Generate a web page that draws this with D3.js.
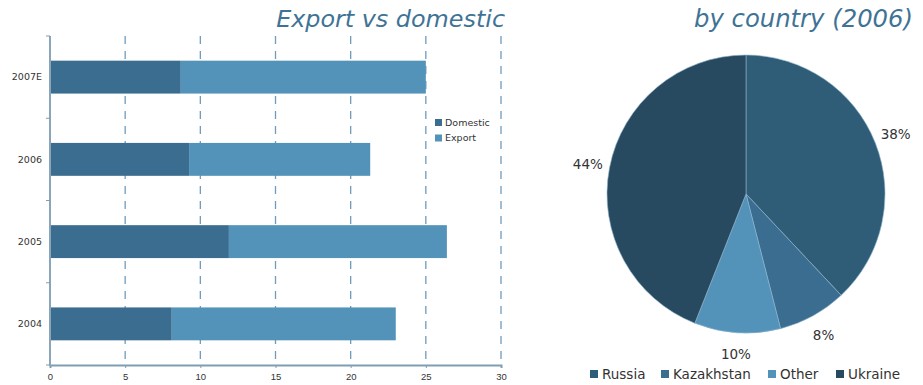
<!DOCTYPE html>
<html lang="en">
<head>
    <meta charset="UTF-8">
    <title>Export vs domestic / by country (2006)</title>
    <style>
        body { margin: 0; background: #fff; }
        svg { font-family: "DejaVu Sans", sans-serif; }
    </style>
</head>
<body>
<script src="https://d3js.org/d3.v7.min.js"></script>
<script>
    // bar chart data
    const years = ["2007E", "2006", "2005", "2004"];
    const domestic = [8.7, 9.25, 11.9, 8.1];
    const exportVals = [16.3, 12.05, 14.5, 14.9];
    const xTicks = [0, 5, 10, 15, 20, 25, 30];
    const barSeries = ["Domestic", "Export"];

    // pie data
    const countries = ["Russia", "Kazakhstan", "Other", "Ukraine"];
    const shares = [38, 8, 10, 44];

    const width = 923, height = 385;
    const titleColor = "#3f7396";
    const barColors = ["#3a6d8f", "#5393ba"];
    const pieColors = ["#2f5d78", "#3a6d8f", "#5393ba", "#284a60"];

    const svg = d3.select("body")
        .append("svg")
        .attr("width", width)
        .attr("height", height);

    // fit a title text into a given width
    function title(str, xRight, y, w) {
        const t = svg.append("text")
            .attr("x", xRight)
            .attr("y", y)
            .attr("text-anchor", "end")
            .attr("font-style", "italic")
            .attr("font-size", 24)
            .attr("fill", titleColor)
            .text(str);
        const len = t.node().getComputedTextLength();
        t.attr("font-size", 24 * w / len);
    }

    title("Export vs domestic", 505, 27, 229);
    title("by country (2006)", 913, 27, 219);

    // ---- stacked bar chart ----
    const x = d3.scaleLinear().domain([0, 30]).range([50, 501]);
    const y = d3.scaleBand().domain(years).range([36, 365]).paddingInner(0.6).paddingOuter(0.3);

    const g = svg.append("g");

    // dashed grid lines
    g.selectAll("line.grid")
        .data(xTicks.slice(1))
        .enter()
        .append("line")
        .attr("x1", d => x(d)).attr("x2", d => x(d))
        .attr("y1", 36).attr("y2", 365)
        .attr("stroke", "#6f9bbd")
        .attr("stroke-width", 1.3)
        .attr("stroke-dasharray", "8,7");

    const stacked = years.map((yr, i) => ({year: yr, parts: [[0, domestic[i]], [domestic[i], domestic[i] + exportVals[i]]]}));

    stacked.forEach(s => {
        g.selectAll(null)
            .data(s.parts)
            .enter()
            .append("rect")
            .attr("x", d => x(d[0]))
            .attr("width", d => x(d[1]) - x(d[0]))
            .attr("y", y(s.year))
            .attr("height", y.bandwidth())
            .attr("fill", (d, i) => barColors[i]);
    });

    // x axis
    const xAxis = g.append("g")
        .attr("transform", "translate(0,365)")
        .call(d3.axisBottom(x).tickValues(xTicks).tickSize(3).tickPadding(5));
    xAxis.select(".domain").attr("stroke", "#7f9db3").attr("stroke-width", 2);
    xAxis.selectAll(".tick line").attr("stroke", "#7f9db3");
    xAxis.selectAll("text").attr("font-size", 9.5).attr("fill", "#333");

    // y axis: ticks at band boundaries
    g.append("line")
        .attr("x1", 50).attr("x2", 50)
        .attr("y1", 36).attr("y2", 366)
        .attr("stroke", "#8aa5b8")
        .attr("stroke-width", 2);
    const step = y.step();
    g.selectAll("line.ytick")
        .data(d3.range(years.length + 1))
        .enter()
        .append("line")
        .attr("x1", 46).attr("x2", 50)
        .attr("y1", d => 36 + d * (329 / years.length))
        .attr("y2", d => 36 + d * (329 / years.length))
        .attr("stroke", "#7f9db3");
    g.selectAll("text.ylab")
        .data(years)
        .enter()
        .append("text")
        .attr("x", 42)
        .attr("y", d => y(d) + y.bandwidth() / 2)
        .attr("dy", "0.35em")
        .attr("text-anchor", "end")
        .attr("font-size", 9.5)
        .attr("fill", "#333")
        .text(d => d);

    // bar legend
    const bl = g.selectAll("g.bleg")
        .data(barSeries)
        .enter()
        .append("g")
        .attr("transform", (d, i) => `translate(435,${119 + i * 15.5})`);
    bl.append("rect").attr("width", 7).attr("height", 7).attr("fill", (d, i) => barColors[i]);
    bl.append("text").attr("x", 10).attr("y", 3.5).attr("dy", "0.35em")
        .attr("font-size", 9.5).attr("fill", "#333").text(d => d);

    // ---- pie chart ----
    const cx = 746, cy = 194, r = 139;
    const pie = d3.pie().sort(null).value(d => d)(shares);
    const arc = d3.arc().innerRadius(0).outerRadius(r);
    const pg = svg.append("g").attr("transform", `translate(${cx},${cy})`);
    pg.selectAll("path")
        .data(pie)
        .enter()
        .append("path")
        .attr("d", arc)
        .attr("fill", (d, i) => pieColors[i])
        .attr("stroke", "#8fb3cc")
        .attr("stroke-width", 0.6);

    const labelArc = d3.arc().innerRadius(r + 22).outerRadius(r + 22);
    pg.selectAll("text")
        .data(pie)
        .enter()
        .append("text")
        .attr("transform", d => `translate(${labelArc.centroid(d)})`)
        .attr("text-anchor", "middle")
        .attr("dy", "0.35em")
        .attr("font-size", 13.5)
        .attr("fill", "#333")
        .text(d => d.data + "%");

    // pie legend
    const legX = [590, 661, 768, 836];
    const pl = svg.selectAll("g.pleg")
        .data(countries)
        .enter()
        .append("g")
        .attr("transform", (d, i) => `translate(${legX[i]},370)`);
    pl.append("rect").attr("width", 8).attr("height", 8).attr("fill", (d, i) => pieColors[i]);
    pl.append("text").attr("x", 12).attr("y", 4).attr("dy", "0.38em")
        .attr("font-size", 13.5).attr("fill", "#333").text(d => d);
</script>
</body>
</html>
